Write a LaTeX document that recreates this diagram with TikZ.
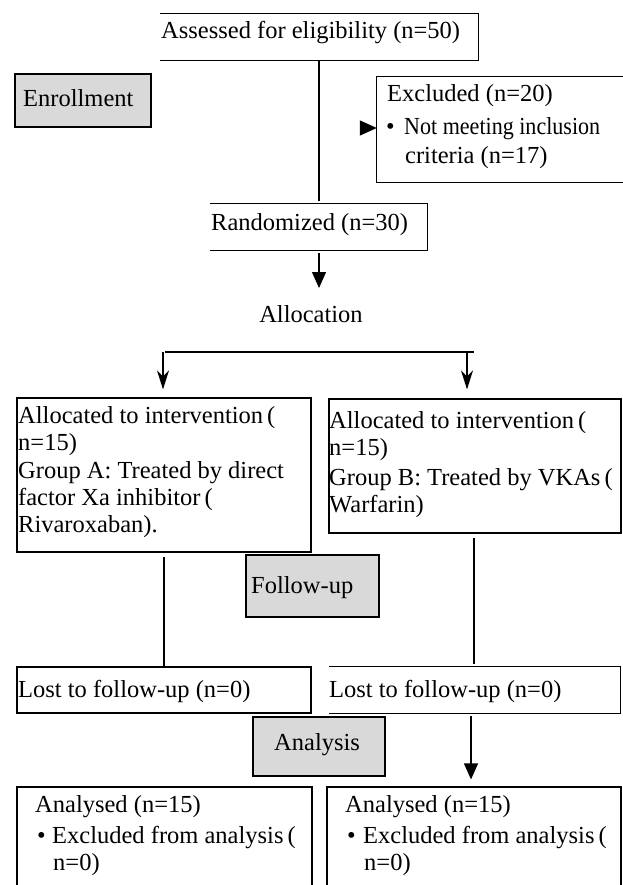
\documentclass[tikz,border=0pt]{standalone}
\usepackage{fontspec}
\setmainfont{Liberation Serif}
\usetikzlibrary{fit,arrows.meta}
\tikzset{
  frame/.style={draw, line width=1.2pt, inner sep=0pt},
  openframe/.style={draw=none, inner sep=0pt},
  grayframe/.style={frame, fill=black!15},
  txt/.style={anchor=base west, inner sep=0pt, font=\fontsize{24.5}{27.3}\selectfont},
  conn/.style={line width=1.2pt},
  tri/.style={conn, -{Triangle[length=16pt,width=14pt]}},
  stl/.style={conn, -{Stealth[length=19pt,width=12pt,inset=6pt]}},
}
\begin{document}
\begin{tikzpicture}[x=1pt,y=-1pt]
\useasboundingbox (0,0) rectangle (622,885);
% boxes
\node[openframe, fit={(160,14) (478,60)}] (assessed) {};
\draw[conn] (assessed.north west) -- (assessed.north east) -- (assessed.south east) -- (assessed.south west);
\node[grayframe, fit={(15,74) (151,127)}] (enr) {};
\node[openframe, fit={(377,77) (624,182)}] (excl) {};
\draw[conn] (excl.north east) -- (excl.north west) -- (excl.south west) -- (excl.south east);
\node[openframe, fit={(210,204) (427,250)}] (rand) {};
\draw[conn] (rand.north west) -- (rand.north east) -- (rand.south east) -- (rand.south west);
\node[frame, fit={(17,398) (311,552)}] (allocL) {};
\node[frame, fit={(329,399) (621,533)}] (allocR) {};
\node[grayframe, fit={(246,555) (379,617)}] (fu) {};
\node[frame, fit={(17,667) (311,713)}] (lostL) {};
\node[openframe, fit={(329,667) (620.5,713)}] (lostR) {};
\draw[conn] (lostR.north west) -- (lostR.north east) -- (lostR.south east) -- (lostR.south west);
\node[grayframe, fit={(253,717) (385,776)}] (an) {};
\node[frame, fit={(17,787) (312,895)}] (anL) {};
\node[frame, fit={(327,787) (621,895)}] (anR) {};
% texts
\node[txt] (tAss) at (161,39) {Assessed for eligibility (n=50)};
\node[txt] (tEnr) at (23,107) {Enrollment};
\node[txt] (tEx1) at (387,102) {Excluded (n=20)};
\node[txt] (tExb) at (386,135) {•};
\node[txt] (tEx2) at (404,135) {\scalebox{0.9}[1]{Not meeting inclusion}};
\node[txt] (tEx3) at (405,164) {criteria (n=17)};
\node[txt] (tRand) at (211,231) {Randomized (n=30)};
\node[txt, anchor=base] (tAlloc) at (311,322) {Allocation};
\node[txt] (tL1) at (18,423) {Allocated to intervention\,(};
\node[txt] (tL2) at (18,450) {n=15)};
\node[txt] (tL3) at (18,478) {Group A: Treated by direct};
\node[txt] (tL4) at (18,505) {factor Xa inhibitor\,(};
\node[txt] (tL5) at (18,532) {Rivaroxaban).};
\node[txt] (tR1) at (329,428) {Allocated to intervention\,(};
\node[txt] (tR2) at (329,455) {n=15)};
\node[txt] (tR3) at (329,485) {Group B: Treated by VKAs\,(};
\node[txt] (tR4) at (329,512) {Warfarin)};
\node[txt] (tFu) at (251,593) {Follow-up};
\node[txt] (tLostL) at (18,697) {Lost to follow-up (n=0)};
\node[txt] (tLostR) at (329,697) {Lost to follow-up (n=0)};
\node[txt] (tAn) at (274,750) {Analysis};
\node[txt] (tAL1) at (35,812) {Analysed (n=15)};
\node[txt] (tALb) at (37,843) {•};
\node[txt] (tAL2) at (52,843) {Excluded from analysis\,(};
\node[txt] (tAL3) at (53,870) {n=0)};
\node[txt] (tAR1) at (345,812) {Analysed (n=15)};
\node[txt] (tARb) at (347,843) {•};
\node[txt] (tAR2) at (363,843) {Excluded from analysis\,(};
\node[txt] (tAR3) at (364,870) {n=0)};
% connectors
\coordinate (v1) at (319,100);
\draw[conn, shorten >=3pt] (assessed.south -| v1) -- (rand.north -| v1);
\coordinate (exa) at (360.5,128);
\draw[conn, -{Triangle[length=17pt,width=15pt]}] (exa) -- (exa -| excl.west);
\coordinate (a1) at (319,288);
\draw[tri, shorten <=3pt] (rand.south -| a1) -- (a1);
\coordinate (sl) at (165,352);
\coordinate (sr) at (474,352);
\draw[conn] (sl) -- (sr);
\coordinate (al) at (163,352);
\coordinate (ar) at (467,352);
\draw[stl, shorten >=8pt] (al) -- (al |- allocL.north);
\draw[stl, shorten >=9pt] (ar) -- (ar |- allocR.north);
\coordinate (vl) at (164,600);
\draw[conn, shorten <=4pt] (allocL.south -| vl) -- (lostL.north -| vl);
\draw[conn, shorten <=4pt, shorten >=3pt] (allocR.south -| sr) -- (lostR.north -| sr);
\coordinate (dn) at (471,750);
\draw[tri, shorten <=3pt, shorten >=7pt] (lostR.south -| dn) -- (anR.north -| dn);
\end{tikzpicture}
\end{document}
